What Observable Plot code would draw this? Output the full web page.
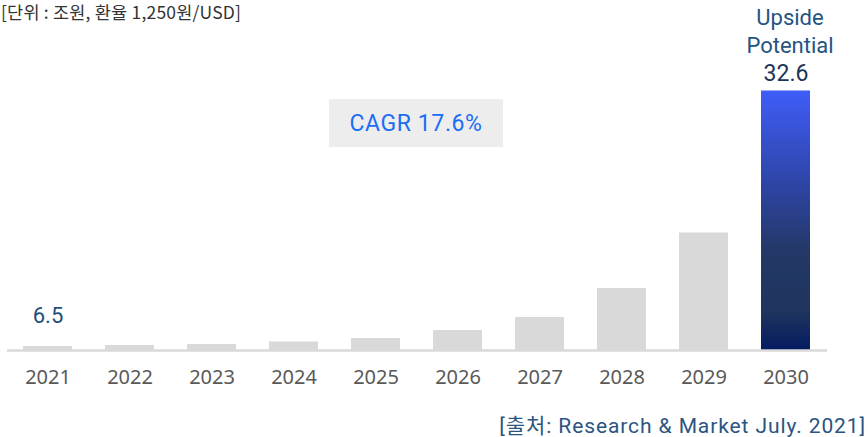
<!DOCTYPE html>
<html>
<head>
<meta charset="utf-8">
<script src="https://cdn.jsdelivr.net/npm/d3@7"></script>
<script src="https://cdn.jsdelivr.net/npm/@observablehq/plot@0.6"></script>
<style>
  html, body { margin: 0; padding: 0; background: #fff; }
  #wrap { position: relative; width: 868px; height: 437px; overflow: hidden; font-family: Roboto, "Noto Sans CJK KR", sans-serif; }
  #unit { position: absolute; left: 1px; top: 2px; font-size: 17.5px; line-height: 20px; color: #333; white-space: nowrap; font-family: "Noto Sans CJK KR", Roboto, sans-serif; letter-spacing: 0.2px; }
  #cagr { position: absolute; left: 329px; top: 99px; width: 174px; height: 48px; background: #ededed; color: #1a6ef5; font-size: 23px; letter-spacing: 0.6px; display: flex; align-items: center; justify-content: center; }
  #source { position: absolute; right: 2px; top: 409px; font-size: 21px; letter-spacing: 0.9px; color: #2a5580; white-space: nowrap; font-family: Roboto, "Noto Sans CJK KR", sans-serif; }
  svg { position: absolute; left: 0; top: 0; }
</style>
</head>
<body>
<div id="wrap"></div>
<script>
// Data
const years = ["2021", "2022", "2023", "2024", "2025", "2026", "2027", "2028", "2029", "2030"];
// bar heights as drawn (visual scale, 2030 = 32.6)
const values = [0.50, 0.63, 0.75, 1.07, 1.51, 2.51, 4.15, 7.79, 14.76, 32.6];
const labelYears = ["2021", "2030"];
const labelTexts = ["6.5", "32.6"];
const highlightYear = "2030";
const unitText = "[단위 : 조원, 환율 1,250원/USD]";
const cagrText = "CAGR 17.6%";
const upsideText = "Upside\nPotential";
const sourceText = "[출처: Research & Market July. 2021]";

const data = years.map((y, i) => ({year: y, value: values[i]}));
const valueOf = Object.fromEntries(data.map(d => [d.year, d.value]));
const labels = labelYears.map((y, i) => ({year: y, value: valueOf[y], text: labelTexts[i]}));

const chart = Plot.plot({
  width: 868,
  height: 437,
  marginLeft: 7,
  marginRight: 41,
  marginTop: 90.5,
  marginBottom: 87,
  style: {fontFamily: "'Noto Sans', 'Open Sans', sans-serif", background: "transparent"},
  x: {domain: years, paddingInner: 0.4, paddingOuter: 0.2, label: null, tickSize: 0, tickPadding: 19},
  y: {domain: [0, 32.6], axis: null},
  marks: [
    Plot.barY(data, {x: "year", y: "value", fill: d => d.year === highlightYear ? "url(#grad2030)" : "#d9d9d9"}),
    Plot.ruleY([0], {stroke: "#d9d9d9", strokeWidth: 2.5}),
    Plot.axisX({tickSize: 0, tickPadding: 19, fontSize: 20, fill: "#595959", label: null, fontFamily: "'Noto Sans', sans-serif"}),
    Plot.text(labels.filter(d => d.year !== highlightYear), {x: "year", y: "value", text: "text", dy: -31, fontSize: 22, fill: "#1f4e79", fontFamily: "Roboto, sans-serif"}),
    Plot.text(labels.filter(d => d.year === highlightYear), {x: "year", y: "value", text: "text", dy: -17.5, fontSize: 23, fill: "#1c3554", fontFamily: "Roboto, sans-serif"}),
    Plot.text(labels.filter(d => d.year === highlightYear), {x: "year", y: "value", text: () => upsideText, dy: -61, dx: 4, fontSize: 22, lineHeight: 1.25, fill: "#245482", fontFamily: "Roboto, sans-serif", style: {letterSpacing: "0.5px"}})
  ]
});

// gradient for highlighted bar
const ns = "http://www.w3.org/2000/svg";
const defs = document.createElementNS(ns, "defs");
defs.innerHTML = `<linearGradient id="grad2030" x1="0" y1="0" x2="0" y2="1">
  <stop offset="0" stop-color="#3f5df8"/>
  <stop offset="0.35" stop-color="#2e45a8"/>
  <stop offset="0.62" stop-color="#233866"/>
  <stop offset="0.85" stop-color="#1f355f"/>
  <stop offset="1" stop-color="#041b60"/>
</linearGradient>`;
chart.insertBefore(defs, chart.firstChild);

const wrap = document.getElementById("wrap");
wrap.appendChild(chart);

const unit = document.createElement("div");
unit.id = "unit"; unit.textContent = unitText;
wrap.appendChild(unit);

const cagr = document.createElement("div");
cagr.id = "cagr"; cagr.textContent = cagrText;
wrap.appendChild(cagr);

const src = document.createElement("div");
src.id = "source"; src.textContent = sourceText;
wrap.appendChild(src);
</script>
</body>
</html>
